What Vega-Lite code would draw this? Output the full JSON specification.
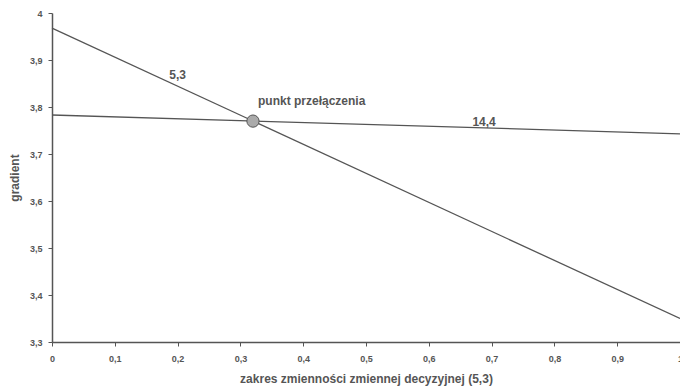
{
  "$schema": "https://vega.github.io/schema/vega-lite/v6.json",
  "width": 628,
  "height": 329,
  "autosize": {"type": "none"},
  "padding": {"left": 52, "top": 13, "right": 0, "bottom": 49},
  "background": "white",
  "config": {
    "view": {"stroke": null},
    "font": "Liberation Sans",
    "axis": {
      "grid": false,
      "domainColor": "#555555",
      "domainWidth": 1.5,
      "tickColor": "#555555",
      "tickSize": 4,
      "labelColor": "#555555",
      "labelFont": "Liberation Sans",
      "labelFontSize": 9,
      "labelFontWeight": "bold",
      "titleColor": "#555555",
      "titleFont": "Liberation Sans",
      "titleFontSize": 12,
      "titleFontWeight": "bold"
    }
  },
  "datasets": {
    "lines": [
      {"series": "5,3", "x": 0, "y": 3.968},
      {"series": "5,3", "x": 1, "y": 3.35},
      {"series": "14,4", "x": 0, "y": 3.783},
      {"series": "14,4", "x": 1, "y": 3.743}
    ],
    "point": [{"x": 0.32, "y": 3.77}],
    "lineLabels": [
      {"x": 0.2, "y": 3.868, "text": "5,3"},
      {"x": 0.688, "y": 3.768, "text": "14,4"}
    ],
    "pointLabel": [{"x": 0.328, "y": 3.813, "text": "punkt przełączenia"}]
  },
  "layer": [
    {
      "data": {"name": "lines"},
      "mark": {"type": "line", "color": "#555555", "strokeWidth": 1.3},
      "encoding": {
        "x": {
          "field": "x", "type": "quantitative",
          "scale": {"domain": [0, 1], "nice": false},
          "axis": {"values": [0, 0.1, 0.2, 0.3, 0.4, 0.5, 0.6, 0.7, 0.8, 0.9, 1],
                   "labelExpr": "replace(format(datum.value, ''), '.', ',')",
                   "labelPadding": 8, "labelFlush": false,
                   "title": "zakres zmienności zmiennej decyzyjnej (5,3)", "titlePadding": 10}
        },
        "y": {
          "field": "y", "type": "quantitative",
          "scale": {"domain": [3.3, 4], "nice": false, "zero": false},
          "axis": {"values": [3.3, 3.4, 3.5, 3.6, 3.7, 3.8, 3.9, 4],
                   "labelExpr": "replace(format(datum.value, ''), '.', ',')",
                   "labelPadding": 6,
                   "title": "gradient", "titlePadding": 8}
        },
        "detail": {"field": "series"}
      }
    },
    {
      "data": {"name": "point"},
      "mark": {"type": "point", "filled": true, "fill": "#aaaaaa", "stroke": "#555555", "strokeWidth": 1, "size": 150, "opacity": 1},
      "encoding": {
        "x": {"field": "x", "type": "quantitative"},
        "y": {"field": "y", "type": "quantitative"}
      }
    },
    {
      "data": {"name": "lineLabels"},
      "mark": {"type": "text", "align": "center", "baseline": "middle", "fontSize": 12, "fontWeight": "bold", "color": "#555555"},
      "encoding": {
        "x": {"field": "x", "type": "quantitative"},
        "y": {"field": "y", "type": "quantitative"},
        "text": {"field": "text"}
      }
    },
    {
      "data": {"name": "pointLabel"},
      "mark": {"type": "text", "align": "left", "baseline": "middle", "fontSize": 12, "fontWeight": "bold", "color": "#555555"},
      "encoding": {
        "x": {"field": "x", "type": "quantitative"},
        "y": {"field": "y", "type": "quantitative"},
        "text": {"field": "text"}
      }
    }
  ]
}
